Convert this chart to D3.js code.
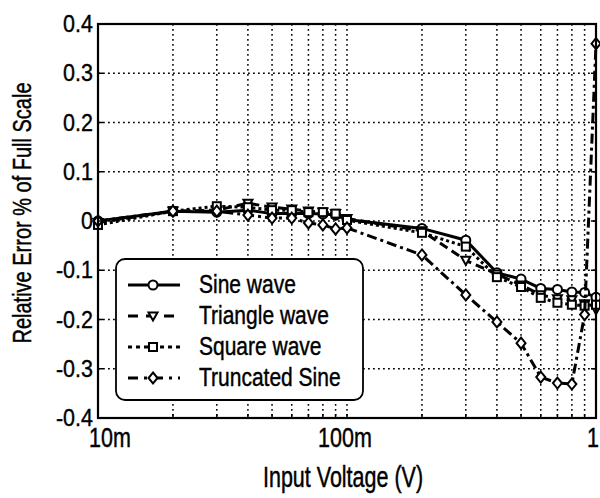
<!DOCTYPE html>
<html>
<head>
<meta charset="utf-8">
<script src="https://cdn.jsdelivr.net/npm/d3@7"></script>
<style>
  body { margin: 0; background: #fff; }
  text { font-family: "Liberation Sans", Arial, sans-serif; fill: #000; stroke: #000; stroke-width: 0.35; }
</style>
</head>
<body>
<svg id="chart" width="600" height="498"></svg>
<script>
// input voltages (V)
const voltages = [0.01, 0.02, 0.03, 0.04, 0.05, 0.06, 0.07, 0.08, 0.09, 0.1,
                  0.2, 0.3, 0.4, 0.5, 0.6, 0.7, 0.8, 0.9, 1];

// relative error, % of full scale
const sineWave     = [0, 0.02, 0.018, 0.022, 0.015, 0.015, 0.015, 0.014, 0.012, 0.003,
                      -0.015, -0.039, -0.105, -0.118, -0.137, -0.139, -0.144, -0.145, -0.155];
const triangleWave = [-0.003, 0.02, 0.022, 0.036, 0.028, 0.024, 0.02, 0.018, 0.015, 0.005,
                      -0.02, -0.08, -0.108, -0.13, -0.15, -0.158, -0.16, -0.168, -0.18];
const squareWave   = [-0.008, 0.02, 0.03, 0.028, 0.022, 0.022, 0.018, 0.018, 0.015, 0.002,
                      -0.024, -0.052, -0.114, -0.134, -0.156, -0.166, -0.17, -0.172, -0.17];
const truncSine    = [0, 0.02, 0.02, 0.012, 0.006, 0.006, -0.004, -0.008, -0.016, -0.014,
                      -0.069, -0.15, -0.205, -0.248, -0.317, -0.329, -0.331, -0.19, 0.36];

const seriesNames = ['Sine wave', 'Triangle wave', 'Square wave', 'Truncated Sine'];
const xTicks = [0.01, 0.1, 1];
const xTickLabels = ['10m', '100m', '1'];
const yTicks = [-0.4, -0.3, -0.2, -0.1, 0, 0.1, 0.2, 0.3, 0.4];

const series = [
  { name: seriesNames[0], values: sineWave,     dash: null,         marker: 'circle' },
  { name: seriesNames[1], values: triangleWave, dash: '9,5',        marker: 'triangle' },
  { name: seriesNames[2], values: squareWave,   dash: '3,3',        marker: 'square' },
  { name: seriesNames[3], values: truncSine,    dash: '10,4,3,4',   marker: 'diamond' }
];

const svg = d3.select('#chart');
const plotL = 98, plotR = 596, plotT = 24, plotB = 418;

const x = d3.scaleLog().domain([0.01, 1]).range([plotL, plotR]);
const y = d3.scaleLinear().domain([-0.4, 0.4]).range([plotB, plotT]);

// text helper: narrow-looking text via vertical stretch
function label(g, txt, px, py, size, stretch, anchor, rotate) {
  return g.append('text')
    .attr('transform', `translate(${px},${py})` + (rotate ? ` rotate(${rotate})` : '') + ` scale(1,${stretch})`)
    .attr('text-anchor', anchor)
    .attr('font-size', size)
    .text(txt);
}

// grid
const minor = [];
for (const dec of [0.01, 0.1]) for (let k = 1; k <= 9; k++) minor.push(dec * k);
minor.push(1);
svg.append('g').selectAll('line')
  .data(minor.filter(v => v > 0.011 && v < 0.99))
  .join('line')
  .attr('x1', d => x(d)).attr('x2', d => x(d))
  .attr('y1', plotT).attr('y2', plotB)
  .attr('stroke', '#000').attr('stroke-width', 1.5)
  .attr('stroke-dasharray', '1.8,3.2');

svg.append('g').selectAll('line')
  .data(yTicks.slice(1, -1))
  .join('line')
  .attr('x1', plotL).attr('x2', plotR)
  .attr('y1', d => y(d)).attr('y2', d => y(d))
  .attr('stroke', '#000').attr('stroke-width', 1.5)
  .attr('stroke-dasharray', '1.8,3.2');

// markers
function drawMarker(g, type, cx, cy) {
  const s = 4.5;
  if (type === 'circle') {
    g.append('circle').attr('cx', cx).attr('cy', cy).attr('r', s);
  } else if (type === 'triangle') {
    g.append('path').attr('d', `M${cx - s},${cy - s * 0.8}L${cx + s},${cy - s * 0.8}L${cx},${cy + s}Z`);
  } else if (type === 'square') {
    g.append('rect').attr('x', cx - s + 0.5).attr('y', cy - s + 0.5).attr('width', 2 * s - 1).attr('height', 2 * s - 1);
  } else {
    g.append('path').attr('d', `M${cx},${cy - s - 1}L${cx + s},${cy}L${cx},${cy + s + 1}L${cx - s},${cy}Z`);
  }
}

const line = d3.line().x(d => x(d[0])).y(d => y(d[1]));
const plot = svg.append('g');
series.forEach(s => {
  const pts = voltages.map((v, i) => [v, s.values[i]]);
  plot.append('path')
    .attr('d', line(pts))
    .attr('fill', 'none')
    .attr('stroke', '#000')
    .attr('stroke-width', 3)
    .attr('stroke-dasharray', s.dash);
  const mg = plot.append('g').attr('fill', '#fff').attr('stroke', '#000').attr('stroke-width', 2);
  pts.forEach(p => drawMarker(mg, s.marker, x(p[0]), y(p[1])));
});

// axis box
svg.append('rect')
  .attr('x', plotL).attr('y', plotT)
  .attr('width', plotR - plotL).attr('height', plotB - plotT)
  .attr('fill', 'none').attr('stroke', '#000').attr('stroke-width', 2.2);

// ticks
const tk = svg.append('g').attr('stroke', '#000').attr('stroke-width', 1.5);
yTicks.forEach(v => {
  tk.append('line').attr('x1', plotL).attr('x2', plotL + 5).attr('y1', y(v)).attr('y2', y(v));
  tk.append('line').attr('x1', plotR).attr('x2', plotR - 5).attr('y1', y(v)).attr('y2', y(v));
});
minor.forEach(v => {
  tk.append('line').attr('x1', x(v)).attr('x2', x(v)).attr('y1', plotB).attr('y2', plotB - 4);
});

// tick labels
const lbl = svg.append('g');
yTicks.forEach(v => {
  const txt = v === 0 ? '0' : v.toFixed(1);
  label(lbl, txt, 93, y(v) + 8, 21.5, 1.15, 'end');
});
xTicks.forEach((v, i) => {
  const dx = i === 0 ? 12 : (i === xTicks.length - 1 ? -3 : -2);
  label(lbl, xTickLabels[i], x(v) + dx, 447, 21.5, 1.25, 'middle');
});

// axis titles
label(lbl, 'Input Voltage (V)', 343, 487, 21.5, 1.33, 'middle');
label(lbl, 'Relative Error % of Full Scale', 31, 213, 20, 1.25, 'middle', -90);

// legend
const lg = svg.append('g');
lg.append('rect')
  .attr('x', 116).attr('y', 259).attr('width', 247).attr('height', 141)
  .attr('rx', 9).attr('ry', 9)
  .attr('fill', '#fff').attr('stroke', '#000').attr('stroke-width', 1.8);
const legendDash = [null, '10,8', '4,4', '10,6,3,6'];
series.forEach((s, i) => {
  const ry = 285 + i * 31;
  lg.append('line')
    .attr('x1', 128).attr('x2', 180).attr('y1', ry).attr('y2', ry)
    .attr('stroke', '#000').attr('stroke-width', 3)
    .attr('stroke-dasharray', legendDash[i]);
  const mg = lg.append('g').attr('fill', '#fff').attr('stroke', '#000').attr('stroke-width', 2);
  drawMarker(mg, s.marker, 153, ry);
  label(lg, s.name, 199, ry + 8, 21, 1.2, 'start');
});
</script>
</body>
</html>
